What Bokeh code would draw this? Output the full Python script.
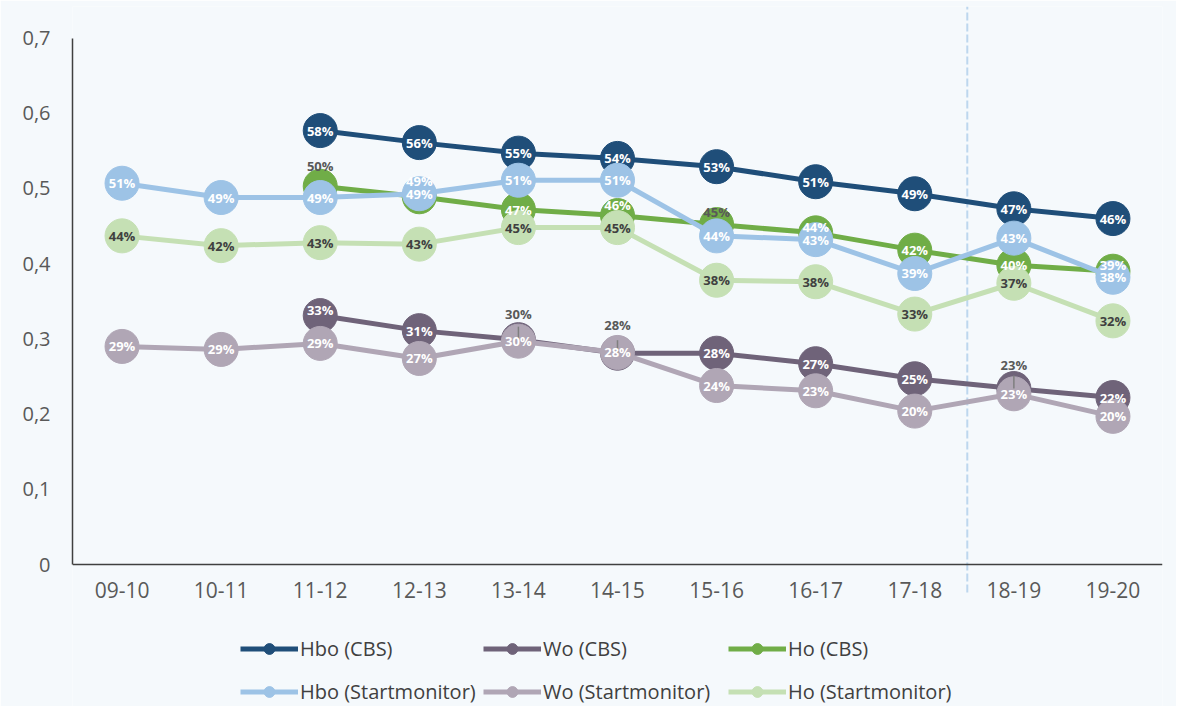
from bokeh.plotting import figure
from bokeh.models import (ColumnDataSource, FactorRange, FixedTicker, CustomJSTickFormatter,
                          Legend, LegendItem)
from bokeh.core.properties import value
from bokeh.embed import file_html
from bokeh.resources import INLINE

# ---------------- data ----------------
years = ["09-10", "10-11", "11-12", "12-13", "13-14", "14-15",
         "15-16", "16-17", "17-18", "18-19", "19-20"]
cbs_years = years[2:]

hbo_cbs = [0.577, 0.561, 0.547, 0.540, 0.529, 0.509, 0.493, 0.473, 0.460]
wo_cbs = [0.331, 0.311, 0.299, 0.281, 0.281, 0.267, 0.247, 0.234, 0.222]
ho_cbs = [0.503, 0.489, 0.472, 0.464, 0.452, 0.441, 0.418, 0.398, 0.390]

hbo_sm = [0.507, 0.488, 0.488, 0.493, 0.511, 0.511, 0.437, 0.432, 0.387, 0.434, 0.382]
wo_sm = [0.290, 0.286, 0.294, 0.274, 0.297, 0.282, 0.238, 0.231, 0.204, 0.227, 0.197]
ho_sm = [0.437, 0.424, 0.428, 0.426, 0.448, 0.448, 0.378, 0.376, 0.333, 0.374, 0.324]

y_ticks = [0, 0.1, 0.2, 0.3, 0.4, 0.5, 0.6, 0.7]
series_names = ["Hbo (CBS)", "Wo (CBS)", "Ho (CBS)",
                "Hbo (Startmonitor)", "Wo (Startmonitor)", "Ho (Startmonitor)"]

# ---------------- styling / layout ----------------
BG = "#f5f9fc"
WHITE = "#ffffff"
DARK = "#404040"
GRAY = "#595959"
colors = ["#1f4e79", "#6f6379", "#70ad47", "#9dc3e6", "#b0a6b5", "#c5e0b4"]

# label offsets (pixels) and label colours per point
lab_dy = [
    [0] * 9,
    [-6, 0, -26, -28, 0, 0, 0, -24, 0],
    [-20, -16, 0, -11, -13, -6, 0, 0, -6],
    [0] * 11,
    [0] * 11,
    [0] * 11,
]
lab_col = [
    [WHITE] * 9,
    [WHITE, WHITE, GRAY, GRAY, WHITE, WHITE, WHITE, GRAY, WHITE],
    [GRAY, WHITE, WHITE, WHITE, GRAY, WHITE, WHITE, WHITE, WHITE],
    [WHITE] * 11,
    [WHITE] * 11,
    [DARK] * 11,
]
leader_idx = [2, 3, 7]  # Wo (CBS) points with labels above and leader lines

FONT = "Open Sans"

p = figure(width=1176, height=706, output_backend="svg", toolbar_location=None,
           x_range=FactorRange(factors=years, range_padding=0),
           y_range=(-0.1888, 0.7420),
           min_border_left=72, min_border_right=14, min_border_top=6, min_border_bottom=0)
p.background_fill_color = BG
p.border_fill_color = BG
p.outline_line_color = None
p.xgrid.grid_line_color = None
p.ygrid.grid_line_color = None

# axes
yax = p.yaxis[0]
yax.ticker = FixedTicker(ticks=y_ticks)
yax.formatter = CustomJSTickFormatter(code="return tick == 0 ? '0' : tick.toFixed(1).replace('.', ',');")
yax.bounds = (0, 0.7)
yax.axis_line_color = DARK
yax.axis_line_width = 1.5
yax.major_tick_line_color = None
yax.minor_tick_line_color = None
yax.major_tick_out = 0
yax.major_tick_in = 0
yax.major_label_standoff = 22
yax.major_label_text_font = FONT
yax.major_label_text_font_size = "20px"
yax.major_label_text_color = GRAY

xax = p.xaxis[0]
xax.fixed_location = 0
xax.axis_line_color = DARK
xax.axis_line_width = 1.5
xax.major_tick_line_color = None
xax.major_tick_out = 0
xax.major_tick_in = 0
xax.major_label_standoff = 17
xax.major_label_text_font = FONT
xax.major_label_text_font_size = "21px"
xax.major_label_text_color = GRAY

# dashed separator between 17-18 and 18-19
sep = ColumnDataSource(dict(x0=[9.03], y0=[-0.0372], x1=[9.03], y1=[0.7420]))
p.segment("x0", "y0", "x1", "y1", source=sep, line_color="#bdd7ee",
          line_width=2, line_dash="8 3")

all_x = [cbs_years, cbs_years, cbs_years, years, years, years]
all_y = [hbo_cbs, wo_cbs, ho_cbs, hbo_sm, wo_sm, ho_sm]

legend_renderers = []
sources = []
for i in range(6):
    src = ColumnDataSource(dict(
        x=all_x[i], y=all_y[i],
        label=[f"{round(v * 100):.0f}%" for v in all_y[i]],
        dy=lab_dy[i], tc=lab_col[i]))
    sources.append(src)
    ln = p.line("x", "y", source=src, line_color=colors[i], line_width=5)
    sc = p.scatter("x", "y", source=src, size=34, fill_color=colors[i],
                   line_color=colors[i], marker="circle")
    legend_renderers.append([ln, sc])

# leader lines
wo_src = ColumnDataSource(dict(x=[cbs_years[k] for k in leader_idx],
                               y=[wo_cbs[k] for k in leader_idx]))
p.ray("x", "y", source=wo_src, length=13, length_units="screen", angle=1.5707963,
      line_color="#7f7f7f", line_width=1.5)

for i in range(6):
    p.text("x", "y", text="label", source=sources[i], y_offset="dy", text_color="tc",
           text_font=value(FONT), text_font_style="bold", text_font_size="13px",
           text_align="center", text_baseline="middle")

# legends: three columns of two items
col_x = [168, 411, 656]
for c in range(3):
    items = [LegendItem(label=series_names[c], renderers=legend_renderers[c]),
             LegendItem(label=series_names[c + 3], renderers=legend_renderers[c + 3])]
    lg = Legend(items=items, location=(col_x[c], 1.5), orientation="vertical",
                glyph_width=58, glyph_height=27, label_height=27, label_standoff=2,
                spacing=16, padding=0, margin=0, border_line_color=None,
                background_fill_alpha=0, label_text_font=FONT,
                label_text_font_size="20px", label_text_color=DARK)
    p.add_layout(lg, "center")

open("out.html", "w").write(file_html(p, INLINE))
